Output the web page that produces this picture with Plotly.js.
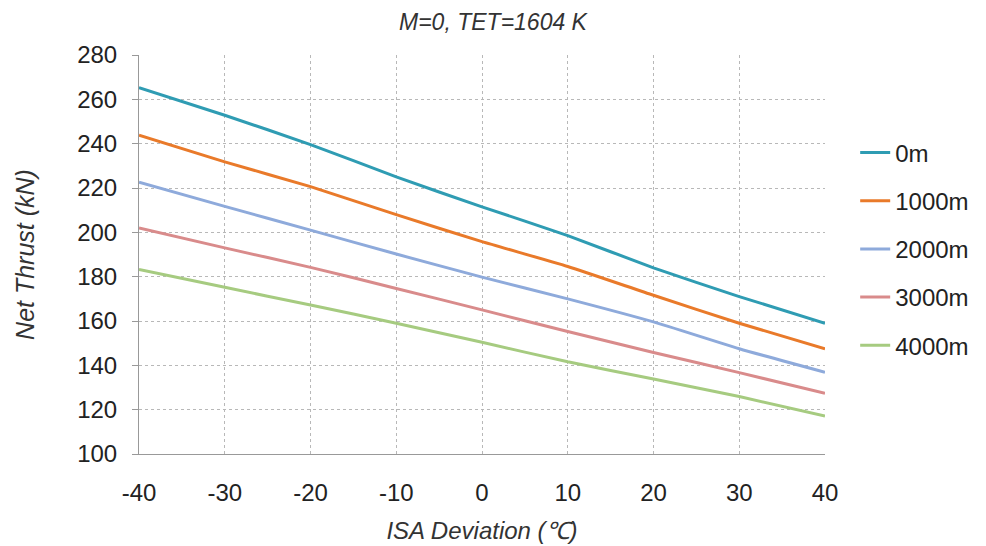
<!DOCTYPE html>
<html><head><meta charset="utf-8">
<script src="https://cdn.plot.ly/plotly-3.0.1.min.js"></script>
<style>body{margin:0;background:#fff}#c{width:986px;height:546px}</style>
</head><body><div id="c"></div>
<script>
const isaDev = [-40, -30, -20, -10, 0, 10, 20, 30, 40];
const names = ['0m', '1000m', '2000m', '3000m', '4000m'];
const thrust0 = [265.3, 252.8, 239.6, 225.0, 211.5, 198.5, 184.0, 171.0, 159.0];
const thrust1000 = [243.8, 231.8, 220.6, 208.0, 195.8, 184.6, 171.6, 159.0, 147.4];
const thrust2000 = [222.6, 211.7, 201.0, 190.2, 179.8, 170.0, 159.6, 147.5, 136.9];
const thrust3000 = [202.0, 193.0, 184.2, 174.7, 165.0, 155.3, 145.8, 136.7, 127.4];
const thrust4000 = [183.3, 175.2, 167.2, 159.0, 150.4, 141.6, 133.8, 125.9, 117.1];
const yTicks = [100, 120, 140, 160, 180, 200, 220, 240, 260, 280];
const colors = ['#2f9cb3', '#e97a2a', '#8eaadb', '#d98b8b', '#a6cb80'];
const series = [thrust0, thrust1000, thrust2000, thrust3000, thrust4000];
const font = 'Liberation Sans, Arial, sans-serif';
const traces = series.map((s, i) => ({
  x: isaDev, y: s, name: names[i], type: 'scatter', mode: 'lines',
  line: {color: colors[i], width: 3, shape: 'spline', smoothing: 0.5},
  legendgroup: 'g' + i
}));
const layout = {
  width: 986, height: 546,
  margin: {l: 139, r: 161, t: 55, b: 92},
  paper_bgcolor: '#fff', plot_bgcolor: '#fff',
  font: {family: font, color: '#222'},
  title: {text: '<i>M=0, TET=1604 K</i>', x: 0.5, xanchor: 'center', y: 0.96, yanchor: 'middle', font: {size: 23, color: '#333'}},
  xaxis: {
    range: [-40, 40], tickvals: isaDev, ticktext: isaDev.map(String),
    showgrid: true, gridcolor: '#b8b8b8', griddash: 'dot', gridwidth: 1,
    zeroline: false, showline: true, linecolor: '#999', linewidth: 1,
    ticks: '', ticklabelstandoff: 17,
    tickfont: {size: 24, color: '#222'},
    title: {text: '<i>ISA Deviation (℃)</i>', font: {size: 24, color: '#333'}, standoff: 17}
  },
  yaxis: {
    range: [100, 280], tickvals: yTicks, ticktext: yTicks.map(String),
    showgrid: true, gridcolor: '#b8b8b8', griddash: 'dot', gridwidth: 1,
    zeroline: false, showline: true, linecolor: '#999', linewidth: 1,
    ticks: 'outside', ticklen: 6, tickcolor: '#999', ticklabelstandoff: 10,
    tickfont: {size: 24, color: '#222'},
    title: {text: '<i>Net Thrust (kN)</i>', font: {size: 25, color: '#333'}, standoff: 35}
  },
  legend: {x: 1.044, xanchor: 'left', y: 0.514, yanchor: 'middle', font: {size: 24, color: '#222'}, tracegroupgap: 14, bgcolor: 'rgba(0,0,0,0)'},
  showlegend: true
};
Plotly.newPlot('c', traces, layout, {staticPlot: true});
</script></body></html>
